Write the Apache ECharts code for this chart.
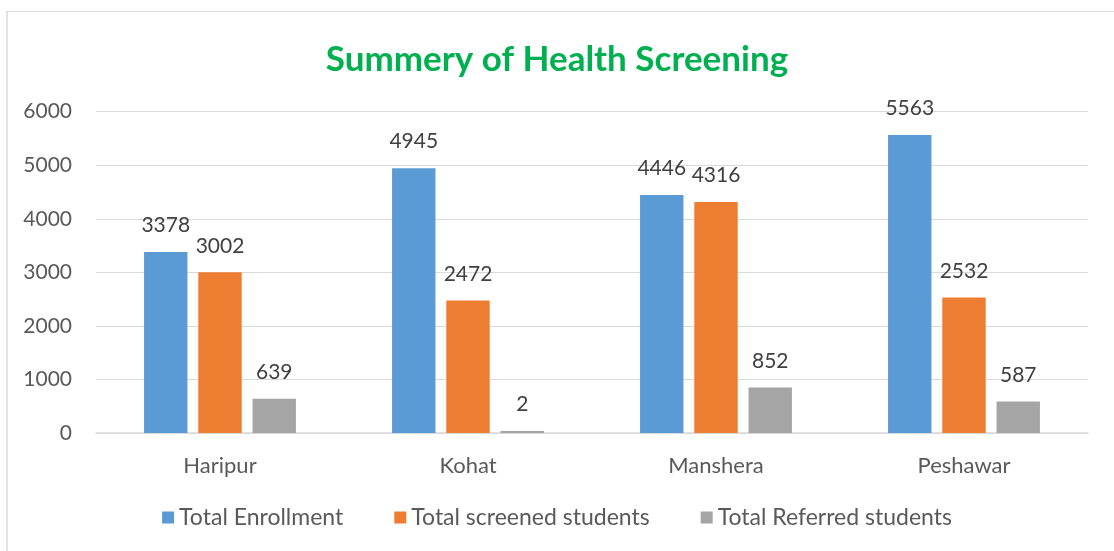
<!DOCTYPE html>
<html><head><meta charset="utf-8">
<script src="https://cdn.jsdelivr.net/npm/echarts@6/dist/echarts.min.js"></script>
<style>
html,body{margin:0;padding:0;background:#fff;width:1114px;height:551px;overflow:hidden;}
#frame{position:absolute;left:6px;top:11px;width:1200px;height:600px;border-top:1px solid #d9d9d9;border-left:2px solid #e3e3e3;}
#c{position:absolute;left:0;top:0;width:1114px;height:551px;}
</style></head>
<body><div id="frame"></div><div id="c"></div>
<script>
var categories = ['Haripur','Kohat','Manshera','Peshawar'];
var seriesNames = ['Total Enrollment','Total screened students','Total Referred students'];
var enrollment = [3378, 4945, 4446, 5563];
var screened = [3002, 2472, 4316, 2532];
var referred = [639, 2, 852, 587];
var yTicks = [0, 1000, 2000, 3000, 4000, 5000, 6000];

var colors = ['#5B9BD5','#ED7D31','#A5A5A5'];
var font = 'Lato, "Open Sans", sans-serif';
var chart = echarts.init(document.getElementById('c'));
function mk(name, data, color){
  return {name:name, type:'bar', data:data, barWidth:'17.5%', barGap:'25%', barMinHeight:2,
    itemStyle:{color:color},
    label:{show:true, position:'top', distance:16, color:'#404040', fontSize:21, fontFamily:font}};
}
chart.setOption({
  animation:false,
  title:{text:'Summery of Health Screening', left:'center', top:37,
    textStyle:{color:'#00B050', fontSize:35, fontWeight:'bold', fontFamily:font}},
  legend:{bottom:17, left:'center', itemWidth:12, itemHeight:12, itemGap:51, icon:'rect',
    textStyle:{color:'#595959', fontSize:23, fontFamily:font}, data:seriesNames},
  grid:{left:96, right:26, top:111.7, bottom:118},
  xAxis:{type:'category', data:categories,
    axisLine:{lineStyle:{color:'#d9d9d9', width:1.5}}, axisTick:{show:false},
    axisLabel:{color:'#595959', fontSize:22, fontFamily:font, margin:22}},
  yAxis:{type:'value', min:yTicks[0], max:yTicks[yTicks.length-1], interval:1000,
    axisLine:{show:false}, axisTick:{show:false},
    splitLine:{lineStyle:{color:'#d9d9d9', width:1}},
    axisLabel:{color:'#595959', fontSize:21, fontFamily:font, margin:24, formatter:function(v){return String(v);}}},
  series:[mk(seriesNames[0], enrollment, colors[0]), mk(seriesNames[1], screened, colors[1]), mk(seriesNames[2], referred, colors[2])]
});
</script></body></html>
